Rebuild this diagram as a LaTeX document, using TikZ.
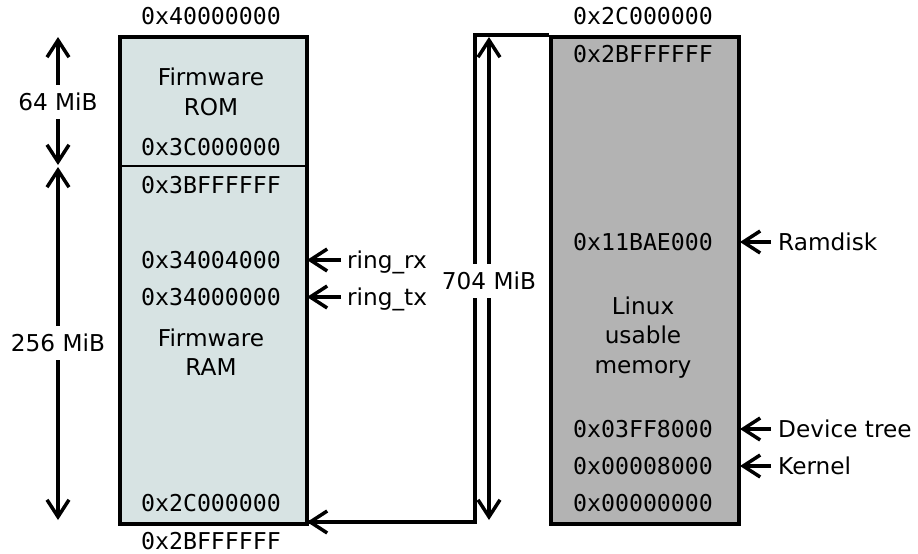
\documentclass[tikz,border=0pt]{standalone}
\usepackage{fontspec}
\setmainfont{DejaVu Sans}
\setmonofont{DejaVu Sans Mono}
\usetikzlibrary{arrows.meta}
\definecolor{fwfill}{HTML}{D7E3E3}
\definecolor{lxfill}{HTML}{B3B3B3}
\begin{document}
\begin{tikzpicture}[x=1pt,y=-1pt,
  addr/.style={font=\ttfamily\fontsize{23.2}{28}\selectfont, inner sep=0pt, text height=16.8pt, text depth=0pt},
  lbl/.style={font=\fontsize{23.2}{28}\selectfont, inner sep=0pt, text height=16.8pt, text depth=0pt},
  memblock/.style={draw, line width=3.5pt, anchor=north west, inner sep=0pt},
  arr/.style={line width=3.5pt, -{Straight Barb[length=17pt,width=22pt,line width=3.5pt]}},
  dbl/.style={line width=3.5pt, {Straight Barb[length=17pt,width=22pt,line width=3.5pt]}-{Straight Barb[length=17pt,width=22pt,line width=3.5pt]}},
  sizelbl/.style={lbl, fill=white, inner xsep=1pt, inner ysep=9pt},
]
\useasboundingbox (0,0) rectangle (918,554);

% memory blocks
\node[memblock, fill=fwfill, minimum width=187pt, minimum height=487pt] (fw) at (118,35) {};
\node[memblock, fill=lxfill, minimum width=188pt, minimum height=487pt] (lx) at (549,35) {};
\coordinate (divl) at (118,166);
\coordinate (divr) at (305,166);
\draw[line width=2pt] (divl) -- (divr);

% left block texts
\node[addr] (a40) at (211,16) {0x40000000};
\node[lbl] (fw1) at (211,77) {Firmware};
\node[lbl] (fw2) at (211,107) {ROM};
\node[addr] (a3c) at (211,147) {0x3C000000};
\node[addr] (a3b) at (211,185) {0x3BFFFFFF};
\node[addr] (a344) at (211,260) {0x34004000};
\node[addr] (a340) at (211,297) {0x34000000};
\node[lbl] (fr1) at (211,338) {Firmware};
\node[lbl] (fr2) at (211,367) {RAM};
\node[addr] (a2cl) at (211,503) {0x2C000000};
\node[addr] (a2bl) at (211,541) {0x2BFFFFFF};

% right block texts
\node[addr] (a2cr) at (643,16) {0x2C000000};
\node[addr] (a2br) at (643,54) {0x2BFFFFFF};
\node[addr] (a11) at (643,242) {0x11BAE000};
\node[lbl] (lx1) at (643,306) {Linux};
\node[lbl] (lx2) at (643,335) {usable};
\node[lbl] (lx3) at (643,365) {memory};
\node[addr] (a03) at (643,429) {0x03FF8000};
\node[addr] (a008) at (643,466) {0x00008000};
\node[addr] (a000) at (643,503) {0x00000000};

% pointer labels
\node[lbl, anchor=west] (rx) at (347,260) {ring\_rx};
\node[lbl, anchor=west] (tx) at (347,297) {ring\_tx};
\node[lbl, anchor=west] (rd) at (778,242) {Ramdisk};
\node[lbl, anchor=west] (dt) at (778,429) {Device tree};
\node[lbl, anchor=west] (kn) at (778,466) {Kernel};

\coordinate (rxt) at (307,260);
\coordinate (txt) at (307,297);
\coordinate (rdt) at (740,242);
\coordinate (dtt) at (740,429);
\coordinate (knt) at (740,466);
\draw[arr] (rx.west) ++(-6,0) -- (rxt);
\draw[arr] (tx.west) ++(-6,0) -- (txt);
\draw[arr] (rd.west) ++(-7,0) -- (rdt);
\draw[arr] (dt.west) ++(-7,0) -- (dtt);
\draw[arr] (kn.west) ++(-7,0) -- (knt);

% size arrows
\coordinate (s64a) at (58,37);
\coordinate (s64b) at (58,165);
\coordinate (s256a) at (58,167);
\coordinate (s256b) at (58,520);
\draw[dbl] (s64a) -- (s64b);
\draw[dbl] (s256a) -- (s256b);
\node[sizelbl] (m64) at (58,102) {64 MiB};
\node[sizelbl] (m256) at (58,343) {256 MiB};

% remap connector
\coordinate (c1) at (475,35);
\coordinate (c2) at (475,522);
\coordinate (c3) at (307,522);
\draw[line width=3.5pt, line join=miter] (lx.north west) -- (c1) -- (c2) -- (c3);
\draw[arr] (c2) -- (c3);

\coordinate (s704a) at (489,37);
\coordinate (s704b) at (489,520);
\draw[dbl] (s704a) -- (s704b);
\node[sizelbl, inner xsep=0pt] (m704) at (489,281) {704 MiB};
\end{tikzpicture}
\end{document}
